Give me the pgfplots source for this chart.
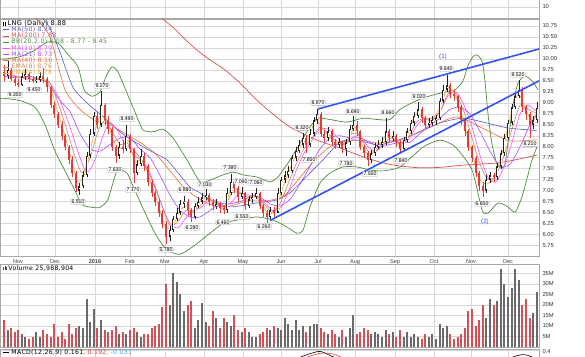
\documentclass[border=0pt]{standalone}
\usepackage{pgfplots}
\pgfplotsset{compat=1.18}
\usepackage{pgfplotstable}
\usepackage{fontspec}
\setmainfont{Liberation Sans}
\newfontfamily\legfont{DejaVu Sans}[LetterSpace=5]

\definecolor{gridc}{HTML}{EBEBEB}
\definecolor{gridm}{HTML}{D8D8D8}
\definecolor{framec}{HTML}{A8A8A8}
\definecolor{trend}{HTML}{3355EE}
\definecolor{bbc}{HTML}{4E8C3C}
\definecolor{ma200}{HTML}{D9534F}
\definecolor{ma50}{HTML}{5B5BD0}
\definecolor{ma10}{HTML}{FF4DFF}
\definecolor{ma21}{HTML}{A64DFF}
\definecolor{ma40}{HTML}{F26B3A}
\definecolor{ema8}{HTML}{C98A60}
\definecolor{ema4}{HTML}{F5A53A}
\definecolor{upc}{HTML}{222222}
\definecolor{dnc}{HTML}{E03C3C}
\definecolor{volg}{HTML}{6A6A6A}
\definecolor{volr}{HTML}{D2525A}
\definecolor{macdb}{HTML}{5AA0E0}

\tikzset{lbl/.style={draw=black!35, fill=white, inner sep=0.7bp, font=\fontsize{5.2}{6}\selectfont, line width=0.3bp, rounded corners=0.5bp}}
\pgfplotsset{
  panel/.style={
    scale only axis, width=539bp, xmin=0, xmax=539,
    axis line style={framec, line width=0.6bp},
    tick style={draw=none},
    xtick={18,55,95,130,165,204,243,281,318,355,395,434,471,508},
    minor x tick num=3,
    grid=both,
    major grid style={gridm, line width=0.4bp},
    minor grid style={gridc, line width=0.4bp},
    yticklabel pos=right,
    tick label style={font=\fontsize{5.8}{7}\selectfont, text=black!80},
    /pgf/number format/assume math mode=true,
  },
}

% up candles: x open high low close volume
\pgfplotstableread{
x o h l c v
8 9.60 9.95 9.55 9.75 8
22 9.40 9.68 9.38 9.60 6
25 9.60 9.78 9.52 9.65 5
36 9.50 9.60 9.45 9.52 7
40 9.52 9.70 9.48 9.60 5
79 7.00 7.18 6.91 7.10 10
83 7.10 7.45 7.05 7.35 9
87 7.35 7.88 7.30 7.80 23
90 7.80 8.40 7.75 8.30 12
94 8.30 8.80 8.25 8.70 18
101 8.50 9.27 8.45 8.95 13
119 7.80 8.10 7.72 8.00 6
126 7.95 8.49 7.90 8.25 6
137 7.40 7.70 7.35 7.60 7
141 7.60 7.95 7.55 7.80 5
170 5.95 6.20 5.85 6.10 20
173 6.10 6.42 6.05 6.35 35
177 6.35 6.60 6.30 6.50 31
180 6.50 6.78 6.45 6.70 25
184 6.70 6.88 6.60 6.75 17
195 6.40 6.72 6.35 6.65 9
198 6.65 6.85 6.60 6.75 13
202 6.75 6.95 6.70 6.85 21
206 6.85 7.03 6.78 6.90 12
216 6.65 6.80 6.58 6.70 14
227 6.55 7.05 6.50 6.95 12
231 6.95 7.38 6.90 7.20 10
242 6.85 7.09 6.80 6.95 7
249 6.65 6.88 6.60 6.80 7
252 6.80 6.95 6.72 6.85 5
256 6.85 7.06 6.80 6.95 5
270 6.40 6.62 6.35 6.55 8
278 6.50 7.05 6.48 6.95 9
281 6.95 7.32 6.90 7.25 8
285 7.25 7.45 7.18 7.35 14
288 7.35 7.55 7.28 7.45 11
292 7.45 7.82 7.40 7.75 8
296 7.75 8.00 7.68 7.90 13
299 7.90 8.15 7.85 8.05 8
303 8.05 8.32 7.98 8.20 10
310 8.05 8.40 8.00 8.30 10
314 8.30 8.68 8.25 8.60 11
317 8.60 8.87 8.52 8.75 11
328 8.20 8.45 8.12 8.35 6
339 8.05 8.20 7.98 8.10 5
346 7.95 8.18 7.78 8.10 5
350 8.10 8.50 8.05 8.40 9
353 8.40 8.69 8.35 8.50 15
371 7.70 7.92 7.62 7.85 6
375 7.85 8.08 7.80 8.00 7
378 8.00 8.15 7.95 8.05 6
382 8.05 8.22 7.98 8.10 5
386 8.10 8.66 8.05 8.35 8
393 8.20 8.35 8.12 8.25 7
404 7.95 8.22 7.90 8.15 5
407 8.15 8.42 8.10 8.35 7
411 8.35 8.62 8.30 8.55 5
414 8.55 8.80 8.48 8.70 6
418 8.70 9.02 8.65 8.85 5
429 8.50 8.65 8.42 8.55 5
432 8.55 8.70 8.48 8.60 6
436 8.60 8.72 8.50 8.65 4
440 8.65 9.12 8.60 9.05 11
443 9.05 9.40 9.00 9.30 9
447 9.30 9.64 9.25 9.40 10
486 7.00 7.35 6.95 7.25 14
490 7.25 7.42 7.18 7.35 23
497 7.30 7.62 7.25 7.55 22
501 7.55 7.92 7.50 7.85 37
504 7.85 8.28 7.80 8.20 30
508 8.20 8.62 8.15 8.55 24
512 8.55 8.98 8.50 8.90 28
515 8.90 9.25 8.85 9.15 37
519 9.15 9.52 9.10 9.30 32
533 8.50 8.70 8.40 8.60 16
537 8.60 9.02 8.55 8.88 26
}\upt

% down candles
\pgfplotstableread{
x o h l c v
4 9.70 9.85 9.50 9.60 13
11 9.75 9.80 9.50 9.55 9
15 9.55 9.62 9.38 9.45 7
18 9.45 9.55 9.35 9.40 8
29 9.65 9.70 9.48 9.55 4
33 9.55 9.62 9.46 9.50 5
43 9.60 9.80 9.45 9.55 8
47 9.55 9.58 9.25 9.35 6
51 9.35 9.38 8.88 8.95 5
54 8.95 9.02 8.65 8.75 11
58 8.75 8.80 8.42 8.50 5
62 8.50 8.58 8.15 8.25 7
65 8.25 8.30 7.92 8.00 4
69 8.00 8.05 7.60 7.70 11
72 7.70 7.78 7.32 7.40 6
76 7.40 7.45 6.98 7.05 9
97 8.70 8.78 8.40 8.50 9
105 8.95 9.00 8.50 8.60 8
108 8.60 8.70 8.30 8.40 7
112 8.40 8.45 7.90 8.00 8
116 8.00 8.05 7.63 7.80 10
123 8.00 8.15 7.85 7.95 7
130 8.25 8.30 7.85 7.95 8
134 7.95 7.98 7.17 7.40 9
144 7.80 7.85 7.45 7.55 6
148 7.55 7.60 7.10 7.20 6
152 7.20 7.25 6.85 6.95 9
155 6.95 7.00 6.65 6.75 10
159 6.75 6.80 6.40 6.50 11
162 6.50 6.55 6.15 6.25 19
166 6.25 6.30 5.78 5.95 30
188 6.75 6.80 6.45 6.55 20
191 6.55 6.60 6.28 6.40 22
209 6.90 6.95 6.65 6.75 10
213 6.75 6.82 6.55 6.65 17
220 6.70 6.75 6.50 6.60 9
224 6.60 6.68 6.46 6.55 14
234 7.20 7.25 6.95 7.05 15
238 7.05 7.10 6.75 6.85 8
245 6.95 6.98 6.55 6.65 9
260 6.95 6.98 6.58 6.65 6
263 6.65 6.70 6.40 6.50 7
267 6.50 6.55 6.26 6.40 9
274 6.55 6.62 6.40 6.50 10
306 8.20 8.25 7.85 8.05 7
321 8.75 8.78 8.22 8.30 9
324 8.30 8.38 8.10 8.20 7
332 8.35 8.40 8.02 8.10 8
335 8.10 8.18 7.95 8.05 6
342 8.10 8.12 7.85 7.95 8
357 8.50 8.58 8.25 8.35 6
360 8.35 8.38 7.92 8.00 7
364 8.00 8.05 7.75 7.85 9
368 7.85 7.90 7.55 7.70 8
389 8.35 8.40 8.10 8.20 6
396 8.25 8.30 8.00 8.10 5
400 8.10 8.15 7.84 7.95 8
422 8.85 8.90 8.55 8.65 4
425 8.65 8.70 8.40 8.50 6
450 9.40 9.45 9.10 9.20 6
454 9.20 9.30 9.05 9.15 4
458 9.15 9.18 8.80 8.90 5
461 8.90 8.95 8.50 8.60 6
465 8.60 8.65 8.25 8.35 9
468 8.35 8.40 7.90 8.00 17
472 8.00 8.05 7.65 7.75 18
476 7.75 7.80 7.30 7.40 10
479 7.40 7.45 7.00 7.10 13
483 7.10 7.20 6.85 7.00 20
494 7.35 7.40 7.20 7.30 20
522 9.30 9.35 8.80 8.90 20
526 8.90 8.95 8.62 8.75 23
530 8.75 8.78 8.21 8.50 14
}\dnt

\begin{document}
\begin{tikzpicture}
\useasboundingbox (0,0) rectangle (585bp,-357bp);
\fill[white] (0,0) rectangle (585bp,-357bp);

% ---- top (cut) panel
\begin{axis}[panel, at={(0bp,-18bp)}, anchor=south west, height=44bp,
  ymin=0, ymax=40, ytick={10}, xticklabels={}]
\addplot[draw=none] coordinates {(0,0)};
\end{axis}

% ---- price panel
\begin{axis}[panel, at={(0bp,-19bp)}, anchor=north west, height=237bp,
  ymin=5.511, ymax=10.909,
  ytick={5.75,6,6.25,6.5,6.75,7,7.25,7.5,7.75,8,8.25,8.5,8.75,9,9.25,9.5,9.75,10,10.25,10.5,10.75},
  yticklabel style={/pgf/number format/.cd, fixed, fixed zerofill, precision=2},
  xticklabels={Nov,Dec,\textbf{2016},Feb,Mar,Apr,May,Jun,Jul,Aug,Sep,Oct,Nov,Dec},
  xticklabel style={font=\fontsize{5.6}{6}\selectfont, text=black!75},
  clip=true]

% Bollinger bands
\addplot[bbc, line width=0.7bp, smooth, tension=0.4] coordinates {
(0,10.0)(5,10.0)(20,10.05)(35,10.2)(47,10.38)(58,10.36)(68,10.1)(78,9.82)(84,9.3)(92,9.15)(100,9.25)(106,9.6)(112,9.82)(118,9.7)(127,9.22)(137,8.68)(143,8.38)(153,8.34)(163,8.4)(173,8.2)(187,7.7)(200,7.2)(210,7.24)(222,7.35)(233,7.42)(245,7.35)(257,7.31)(270,7.2)(278,7.31)(290,7.7)(300,8.08)(310,8.45)(318,8.65)(330,8.62)(347,8.56)(363,8.65)(377,8.62)(390,8.62)(400,8.85)(412,9.0)(423,9.11)(440,9.22)(455,9.3)(463,9.5)(468,9.85)(473,10.05)(477,10.09)(482,9.95)(485,9.5)(488,8.74)(492,8.06)(497,7.6)(502,7.52)(505,7.6)(508,8.1)(513,8.95)(518,9.45)(525,9.61)(532,9.5)(538,9.3)};
\addplot[bbc, line width=0.7bp, smooth, tension=0.4] coordinates {
(0,9.1)(5,9.1)(20,9.05)(35,8.9)(45,8.5)(55,7.9)(65,7.45)(75,7.0)(82,6.68)(92,6.62)(100,6.62)(108,6.8)(117,7.45)(127,7.4)(133,7.1)(147,6.4)(157,5.95)(167,5.65)(180,5.55)(195,5.76)(210,6.03)(223,6.25)(237,6.33)(257,6.4)(273,6.33)(287,6.17)(297,6.03)(303,6.1)(310,6.63)(320,7.17)(330,7.4)(343,7.54)(357,7.54)(370,7.47)(383,7.45)(400,7.54)(423,7.99)(440,8.15)(455,8.0)(472,7.47)(482,6.56)(488,6.49)(498,6.72)(508,6.63)(515,6.51)(522,6.86)(532,7.7)(537,7.99)};

% MA200
\addplot[ma200, line width=0.7bp, smooth, tension=0.4] coordinates {
(150,11.3)(163,10.91)(175,10.68)(185,10.45)(197,10.2)(210,9.98)(225,9.75)(240,9.45)(255,9.1)(270,8.8)(290,8.45)(317,8.15)(340,7.97)(363,7.77)(383,7.63)(400,7.56)(420,7.52)(440,7.53)(463,7.58)(497,7.63)(515,7.7)(537,7.81)};
% MA50
\addplot[ma50, line width=0.6bp, smooth, tension=0.4] coordinates {
(40,11.0)(50,10.70)(60,10.15)(73,9.35)(87,9.0)(97,8.8)(107,8.61)(117,8.4)(127,8.22)(143,8.0)(155,7.85)(167,7.7)(180,7.35)(190,7.08)(200,6.95)(210,6.79)(230,6.63)(257,6.72)(277,6.79)(290,6.95)(300,7.17)(312,7.45)(323,7.70)(340,8.11)(357,8.15)(377,8.04)(390,8.1)(413,8.27)(440,8.54)(463,8.65)(487,8.54)(507,8.43)(530,8.38)(537,8.36)};
% MA40
\addplot[ma40, line width=0.6bp, smooth, tension=0.4] coordinates {
(35,10.95)(50,10.5)(65,9.3)(80,8.85)(95,8.6)(110,8.5)(125,8.3)(140,8.1)(155,7.85)(170,7.45)(185,7.05)(200,6.8)(215,6.65)(230,6.65)(250,6.78)(270,6.78)(285,6.9)(300,7.3)(315,7.7)(330,8.0)(345,8.12)(360,8.15)(380,8.08)(400,8.15)(430,8.45)(457,8.68)(480,8.45)(507,8.15)(520,8.13)(537,8.16)};
% MA21
\addplot[ma21, line width=0.6bp, smooth, tension=0.4] coordinates {
(5,9.6)(15,9.58)(30,9.6)(45,9.5)(55,9.2)(62,9.0)(70,8.8)(80,8.3)(90,7.95)(100,7.9)(110,8.05)(120,8.2)(130,8.2)(140,7.95)(150,7.75)(160,7.35)(170,6.9)(180,6.55)(190,6.4)(200,6.4)(210,6.55)(220,6.7)(230,6.7)(240,6.75)(250,6.85)(260,6.85)(270,6.7)(280,6.65)(290,6.8)(300,7.15)(310,7.55)(320,7.95)(330,8.2)(340,8.25)(350,8.2)(360,8.2)(370,8.1)(380,8.0)(390,8.05)(400,8.1)(410,8.1)(420,8.3)(430,8.5)(440,8.65)(450,8.85)(460,8.9)(470,8.75)(480,8.35)(490,7.9)(500,7.55)(510,7.6)(520,8.0)(530,8.5)(537,8.73)};
% MA10
\addplot[ma10, line width=0.6bp, smooth, tension=0.4] coordinates {
(10,9.65)(25,9.55)(40,9.52)(50,9.45)(60,9.05)(70,8.45)(80,7.75)(87,7.4)(95,7.7)(103,8.25)(110,8.55)(118,8.35)(125,8.05)(133,7.95)(141,7.7)(148,7.5)(156,7.05)(163,6.6)(170,6.25)(178,6.15)(185,6.35)(193,6.55)(200,6.6)(208,6.75)(216,6.78)(224,6.65)(232,6.75)(240,6.95)(248,6.9)(256,6.88)(264,6.75)(272,6.55)(280,6.6)(288,6.95)(296,7.45)(304,7.85)(312,8.15)(320,8.4)(328,8.4)(336,8.25)(344,8.05)(352,8.2)(360,8.25)(368,8.0)(376,7.9)(384,8.05)(392,8.15)(400,8.1)(408,8.15)(416,8.45)(424,8.65)(432,8.65)(440,8.8)(448,9.15)(456,9.25)(464,8.95)(472,8.45)(480,7.8)(488,7.3)(496,7.2)(504,7.55)(512,8.1)(520,8.75)(528,8.95)(537,8.79)};
% EMA8
\addplot[ema8, line width=0.6bp, smooth, tension=0.4] coordinates {
(10,9.62)(25,9.55)(40,9.53)(50,9.45)(58,9.0)(66,8.45)(74,7.85)(82,7.4)(90,7.75)(98,8.35)(105,8.6)(112,8.35)(120,8.05)(127,8.1)(134,7.8)(141,7.7)(148,7.45)(156,7.0)(163,6.6)(170,6.2)(178,6.3)(186,6.55)(193,6.5)(200,6.65)(208,6.8)(216,6.75)(224,6.62)(232,6.95)(240,6.95)(248,6.85)(256,6.9)(264,6.7)(272,6.5)(280,6.7)(288,7.15)(296,7.6)(304,7.95)(312,8.2)(320,8.45)(328,8.3)(336,8.15)(344,8.05)(352,8.3)(360,8.25)(368,7.9)(376,7.9)(384,8.1)(392,8.2)(400,8.05)(408,8.2)(416,8.55)(424,8.65)(432,8.6)(440,8.8)(448,9.2)(456,9.2)(464,8.8)(472,8.2)(480,7.6)(488,7.25)(496,7.35)(504,7.8)(512,8.4)(520,8.95)(528,8.85)(537,8.76)};
% EMA4
\addplot[ema4, line width=0.6bp, smooth, tension=0.4] coordinates {
(10,9.62)(25,9.57)(40,9.55)(48,9.45)(55,9.0)(63,8.4)(71,7.75)(78,7.2)(85,7.4)(92,8.1)(100,8.7)(107,8.6)(114,8.1)(121,7.95)(128,8.15)(135,7.65)(142,7.7)(150,7.25)(158,6.7)(165,6.2)(172,6.15)(180,6.55)(187,6.65)(193,6.5)(200,6.75)(208,6.85)(216,6.7)(224,6.6)(231,7.05)(238,7.0)(246,6.8)(254,6.9)(262,6.7)(269,6.45)(276,6.6)(284,7.15)(292,7.6)(300,8.0)(308,8.2)(316,8.6)(323,8.4)(331,8.2)(340,8.05)(348,8.15)(355,8.45)(363,8.0)(370,7.8)(378,8.0)(386,8.25)(393,8.2)(400,8.0)(408,8.3)(416,8.75)(424,8.65)(432,8.6)(440,8.9)(448,9.35)(456,9.15)(464,8.55)(472,7.85)(480,7.25)(487,7.15)(494,7.3)(502,7.85)(510,8.65)(518,9.2)(525,8.9)(531,8.6)(537,8.78)};

% candles: wicks
\addplot[upc, line width=0.5bp, mark=none, quiver={u=0, v=\thisrow{h}-\thisrow{l}}] table[x=x, y=l] {\upt};
\addplot[dnc, line width=0.5bp, mark=none, quiver={u=0, v=\thisrow{h}-\thisrow{l}}] table[x=x, y=l] {\dnt};
% bodies
\addplot[upc, line width=2.3bp, mark=none, quiver={u=0, v={max(\thisrow{c}-\thisrow{o},0.02)}}] table[x=x, y=o] {\upt};
\addplot[white, line width=0.9bp, mark=none, quiver={u=0, v={max(\thisrow{c}-\thisrow{o}-0.06,0.001)}}] table[x=x, y expr={\thisrow{o}+0.03}] {\upt};
\addplot[dnc, line width=2.3bp, mark=none, quiver={u=0, v={max(\thisrow{o}-\thisrow{c},0.02)}}] table[x=x, y=c] {\dnt};

% trend lines
\addplot[trend, line width=1.6bp] coordinates {(318,8.86)(539,10.226)};
\addplot[trend, line width=1.6bp] coordinates {(270,6.32)(539,9.50)};

% annotations
\node[lbl] at (axis cs:15,9.18) {9.350};
\node[lbl] at (axis cs:34,9.29) {9.450};
\node[lbl] at (axis cs:102,9.38) {9.270};
\node[lbl] at (axis cs:78,6.74) {6.910};
\node[lbl] at (axis cs:115,7.47) {7.630};
\node[lbl] at (axis cs:127,8.63) {8.490};
\node[lbl] at (axis cs:133,7.01) {7.170};
\node[lbl] at (axis cs:166,5.65) {5.780};
\node[lbl] at (axis cs:185,7.01) {6.880};
\node[lbl] at (axis cs:192,6.15) {6.280};
\node[lbl] at (axis cs:205,7.14) {7.030};
\node[lbl] at (axis cs:230,7.52) {7.380};
\node[lbl] at (axis cs:223,6.28) {6.460};
\node[lbl] at (axis cs:241,7.21) {7.090};
\node[lbl] at (axis cs:256,7.18) {7.060};
\node[lbl] at (axis cs:242,6.40) {6.550};
\node[lbl] at (axis cs:264,6.18) {6.260};
\node[lbl] at (axis cs:318,9.00) {8.870};
\node[lbl] at (axis cs:302,8.43) {8.320};
\node[lbl] at (axis cs:309,7.70) {7.850};
\node[lbl] at (axis cs:353,8.80) {8.690};
\node[lbl] at (axis cs:346,7.62) {7.780};
\node[lbl] at (axis cs:370,7.38) {7.550};
\node[lbl] at (axis cs:388,8.78) {8.660};
\node[lbl] at (axis cs:401,7.67) {7.840};
\node[lbl] at (axis cs:419,9.14) {9.020};
\node[lbl] at (axis cs:446,9.77) {9.640};
\node[lbl] at (axis cs:482,6.70) {6.850};
\node[lbl] at (axis cs:518,9.64) {9.520};
\node[lbl] at (axis cs:530,8.06) {8.210};
\node[text=trend, font=\fontsize{6.2}{7}\selectfont] at (axis cs:443,10.04) {(1)};
\node[text=trend, font=\fontsize{6.2}{7}\selectfont] at (axis cs:485,6.285) {(2)};
\end{axis}

% ---- volume panel
\begin{axis}[panel, at={(0bp,-264bp)}, anchor=north west, height=83bp,
  ymin=0, ymax=39.5, ytick={5,10,15,20,25,30,35},
  yticklabels={5M,10M,15M,20M,25M,30M,35M}, xticklabels={}]
\addplot[ycomb, draw=volg, line width=2.6bp, mark=none] table[x=x, y=v] {\upt};
\addplot[ycomb, draw=volr, line width=2.6bp, mark=none] table[x=x, y=v] {\dnt};
\end{axis}

% ---- MACD panel (cut)
\begin{axis}[panel, at={(0bp,-349bp)}, anchor=north west, height=60bp,
  ymin=-0.6, ymax=0.42, ytick={0.4}, yticklabels={0.4}, xticklabels={},
  yticklabel style={yshift=-1bp}]
\addplot[black, line width=0.6bp, smooth] coordinates {(290,0.22)(300,0.28)(308,0.33)(314,0.36)(319,0.38)(324,0.36)(330,0.31)(336,0.27)(345,0.22)};
\addplot[dnc, line width=0.6bp, smooth] coordinates {(295,0.22)(305,0.27)(312,0.31)(320,0.345)(327,0.35)(334,0.33)(340,0.29)(350,0.23)};
\addplot[black, line width=0.6bp, smooth] coordinates {(505,0.22)(512,0.28)(518,0.31)(523,0.325)(528,0.31)(534,0.27)(539,0.24)};
\end{axis}

% ---- legends
\begin{scope}[every node/.style={anchor=west, inner sep=0pt, font=\legfont\fontsize{6.2}{7}\selectfont}]
\node at (3bp,-23.3bp) {\textcolor{black}{\rule[-0.5bp]{1.2bp}{4bp}\hspace{0.5bp}\rule[-0.5bp]{1.2bp}{4bp}}\hspace{1.5bp}\fontsize{6.6}{7}\selectfont LNG (Daily) 8.88};
\node[text=ma50] at (3bp,-29.5bp) {\rule[0.35ex]{6bp}{0.8bp} MA(50) 8.34};
\node[text=ma200] at (3bp,-35.7bp) {\rule[0.35ex]{6bp}{0.8bp} MA(200) 7.83};
\node[text=bbc] at (3bp,-41.9bp) {\rule[0.35ex]{6bp}{0.8bp} BB(20,2.0) 8.08 - 8.77 - 9.45};
\node[text=ma10] at (3bp,-48.1bp) {\rule[0.35ex]{6bp}{0.8bp} MA(10) 8.79};
\node[text=ma21] at (3bp,-54.3bp) {\rule[0.35ex]{6bp}{0.8bp} MA(21) 8.73};
\node[text=ma40] at (3bp,-60.5bp) {\rule[0.35ex]{6bp}{0.8bp} MA(40) 8.16};
\node[text=ema8] at (3bp,-66.7bp) {\rule[0.35ex]{6bp}{0.8bp} EMA(8) 8.76};
\node[text=ema4] at (3bp,-72.9bp) {\rule[0.35ex]{6bp}{0.8bp} EMA(4) 8.78};
\node at (3bp,-268.5bp) {\textcolor{black!70}{\rule{1bp}{3bp}\hspace{0.4bp}\rule{1bp}{4.5bp}\hspace{0.4bp}\rule{1bp}{3.5bp}}\hspace{1.5bp}Volume 25,988,904};
\node at (3bp,-352.5bp) {\rule[0.35ex]{6bp}{0.8bp} MACD(12,26,9) 0.161\textcolor{dnc}{, 0.192}\textcolor{macdb}{, -0.031}};
\end{scope}
\end{tikzpicture}
\end{document}
